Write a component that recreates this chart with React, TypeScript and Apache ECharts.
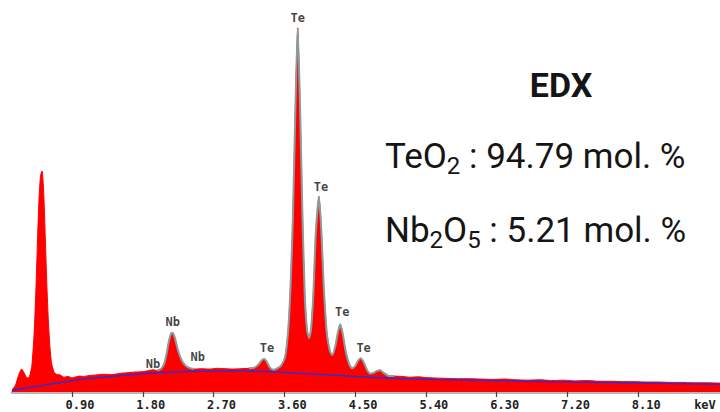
import React, { useEffect, useRef } from 'react';
import * as echarts from 'echarts';

// Measured EDX spectrum (energy in keV, intensity in arbitrary counts)
const spectrumKeV = [
  0.137, 0.18, 0.22, 0.26, 0.29, 0.33, 0.36, 0.39, 0.42, 0.44, 0.46, 0.48, 0.5, 0.52, 0.54, 0.56, 0.58, 0.6, 0.62, 0.64,
  0.67, 0.7, 0.75, 0.8, 0.85, 0.9, 0.95, 1.0, 1.05, 1.1, 1.2, 1.3, 1.4, 1.5, 1.6, 1.7, 1.8, 1.88, 1.93, 1.98,
  2.03, 2.07, 2.1, 2.13, 2.16, 2.18, 2.21, 2.24, 2.27, 2.3, 2.34, 2.39, 2.45, 2.55, 2.65, 2.75, 2.85, 2.95, 3.05, 3.15,
  3.22, 3.27, 3.31, 3.34, 3.37, 3.41, 3.46, 3.51, 3.56, 3.61, 3.65, 3.68, 3.71, 3.74, 3.77, 3.8, 3.83, 3.86, 3.89, 3.915,
  3.94, 3.97, 4.0, 4.04, 4.07, 4.1, 4.14, 4.18, 4.21, 4.25, 4.28, 4.31, 4.34, 4.38, 4.42, 4.46, 4.5, 4.54, 4.57, 4.61,
  4.65, 4.69, 4.73, 4.78, 4.82, 4.86, 4.92, 5.0, 5.1, 5.2, 5.3, 5.4, 5.5, 5.65, 5.8, 5.95, 6.1, 6.25, 6.4, 6.55,
  6.7, 6.85, 7.0, 7.15, 7.3, 7.45, 7.6, 7.75, 7.9, 8.05, 8.2, 8.35, 8.5, 8.65, 8.8, 8.95, 9.14,
];
const spectrumCounts = [
  5, 18, 45, 62, 52, 38, 42, 72, 165, 270, 400, 520, 585, 597, 540, 420, 290, 190, 120, 78,
  55, 48, 46, 40, 42, 38, 41, 43, 42, 44, 46, 48, 47, 50, 52, 54, 55, 58, 60, 58,
  62, 75, 100, 135, 158, 160, 145, 118, 98, 84, 72, 65, 62, 63, 62, 64, 63, 62, 63, 64,
  66, 74, 85, 89, 84, 68, 60, 64, 72, 95, 170, 290, 480, 760, 984, 770, 480, 260, 165, 146,
  170, 270, 430, 528, 440, 290, 160, 110, 100, 125, 160, 183, 160, 110, 78, 64, 70, 85, 91, 80,
  60, 50, 51, 57, 59, 52, 44, 43, 42, 40, 41, 39, 38, 37, 36, 36, 35, 34, 35, 33,
  32, 33, 31, 32, 30, 31, 29, 29, 28, 28, 27, 27, 26, 26, 25, 25, 24,
];

// Fitted background (bremsstrahlung)
const backgroundKeV = [0.137, 0.5, 1.0, 1.5, 2.0, 2.5, 3.0, 3.5, 4.0, 4.5, 5.0, 5.5, 6.0, 7.0, 8.0, 9.14];
const backgroundCounts = [5, 17, 34, 44, 52, 56, 57, 54, 48, 42, 37, 34, 32, 28, 25, 21];

// Energy windows where the peak fit is drawn
const fitRanges = [
  [1.95, 2.5],
  [3.15, 5.0],
];

// Axis ticks and labels
const tickValues = [0.9, 1.8, 2.7, 3.6, 4.5, 5.4, 6.3, 7.2, 8.1];
const labelValues = [0.9, 1.8, 2.7, 3.6, 4.5, 5.4, 6.3, 7.2, 8.1, 9.0];
const unitLabel = 'keV';

// Peak identifications
const peakText = ['Te', 'Te', 'Te', 'Te', 'Te', 'Nb', 'Nb', 'Nb'];
const peakKeV = [3.77, 4.04, 4.31, 4.57, 3.34, 2.18, 1.93, 2.5];
const peakCounts = [984, 528, 183, 91, 89, 160, 58, 60];

// Composition annotation
const titleText = 'EDX';
const teo2Mol = 94.79;
const nb2o5Mol = 5.21;

// label styling (offsets in pixels)
const peakLabelDistance = [4, 4, 6, 4, 5, 5, 1, 7];
const peakLabelDx = [0, 2, 2, 3, 3, 0, 0, 0];

export default function App() {
  const ref = useRef<HTMLDivElement>(null);

  useEffect(() => {
    if (!ref.current) return;
    const chart = echarts.init(ref.current, undefined, { renderer: 'svg' });

    const spectrum = spectrumKeV.map((k, i) => [k, spectrumCounts[i]]);
    const background = backgroundKeV.map((k, i) => [k, backgroundCounts[i]]);
    const fit = spectrumKeV.map((k, i) =>
      fitRanges.some(([a, b]) => k >= a && k <= b) ? [k, spectrumCounts[i]] : [k, null]
    );
    const labels = peakKeV.map((k, i) => ({
      value: [k, peakCounts[i]],
      label: {
        show: true,
        position: 'top',
        distance: peakLabelDistance[i],
        offset: [peakLabelDx[i], 0],
        formatter: peakText[i],
      },
    }));

    const mono = '"DejaVu Sans Mono", "Liberation Mono", monospace';
    const textFont = 'Roboto, "Liberation Sans", sans-serif';

    chart.setOption({
      animation: false,
      grid: { left: 12, right: 0, top: 22, bottom: 20 },
      xAxis: {
        type: 'value',
        min: 0.137,
        max: 9.14,
        splitLine: { show: false },
        axisLine: { lineStyle: { color: '#b8b8b8', width: 3 } },
        axisTick: { customValues: tickValues, length: 5, lineStyle: { color: '#444', width: 1.2 } },
        axisLabel: {
          customValues: labelValues,
          margin: 7,
          formatter: (v: number) => (v > 8.95 ? `{k|${unitLabel}}` : `{n|${v.toFixed(2)}}`),
          rich: {
            n: { padding: [0, 0, 0, 16], fontFamily: mono, fontWeight: 'bold', fontSize: 12, color: '#222' },
            k: { padding: [0, 8, 0, 0], fontFamily: mono, fontWeight: 'bold', fontSize: 12, color: '#222' },
          },
        },
      },
      yAxis: { type: 'value', min: 0, max: 1000, show: false },
      series: [
        {
          type: 'line',
          data: spectrum,
          showSymbol: false,
          smooth: 0.2,
          lineStyle: { color: '#ff0000', width: 1 },
          areaStyle: { color: '#ff0000', opacity: 1 },
          z: 2,
        },
        {
          type: 'line',
          data: fit,
          showSymbol: false,
          smooth: 0.2,
          connectNulls: false,
          lineStyle: { color: '#8a9c9c', width: 2 },
          z: 3,
        },
        {
          type: 'line',
          data: background,
          showSymbol: false,
          smooth: 0.3,
          lineStyle: { color: '#2e2ed0', width: 1.5 },
          z: 4,
        },
        {
          type: 'scatter',
          data: labels,
          symbolSize: 0,
          label: { fontFamily: mono, fontWeight: 'bold', fontSize: 12, color: '#111' },
          z: 5,
        },
      ],
      graphic: [
        {
          type: 'text',
          x: 561,
          y: 85,
          style: {
            text: titleText,
            fontFamily: textFont,
            fontWeight: 'bold',
            fontSize: 34,
            fill: '#151515',
            align: 'center',
            verticalAlign: 'middle',
          },
        },
        {
          type: 'text',
          x: 385,
          y: 134,
          style: {
            text: `{a|TeO}{s|2}{a| : ${teo2Mol.toFixed(2)} mol. %}`,
            verticalAlign: 'top',
            rich: {
              a: { fontFamily: textFont, fontSize: 35, lineHeight: 44, fill: '#151515', verticalAlign: 'middle' },
              s: { fontFamily: textFont, fontSize: 24, lineHeight: 16, fill: '#151515', verticalAlign: 'bottom' },
            },
          },
        },
        {
          type: 'text',
          x: 385,
          y: 208,
          style: {
            text: `{a|Nb}{s|2}{a|O}{s|5}{a| : ${nb2o5Mol.toFixed(2)} mol. %}`,
            verticalAlign: 'top',
            rich: {
              a: { fontFamily: textFont, fontSize: 35, lineHeight: 44, fill: '#151515', verticalAlign: 'middle' },
              s: { fontFamily: textFont, fontSize: 24, lineHeight: 16, fill: '#151515', verticalAlign: 'bottom' },
            },
          },
        },
      ],
    });

    return () => chart.dispose();
  }, []);

  return (
    <div
      ref={ref}
      style={{ position: 'fixed', left: 0, top: 0, width: 720, height: 412, background: '#fff' }}
    />
  );
}
